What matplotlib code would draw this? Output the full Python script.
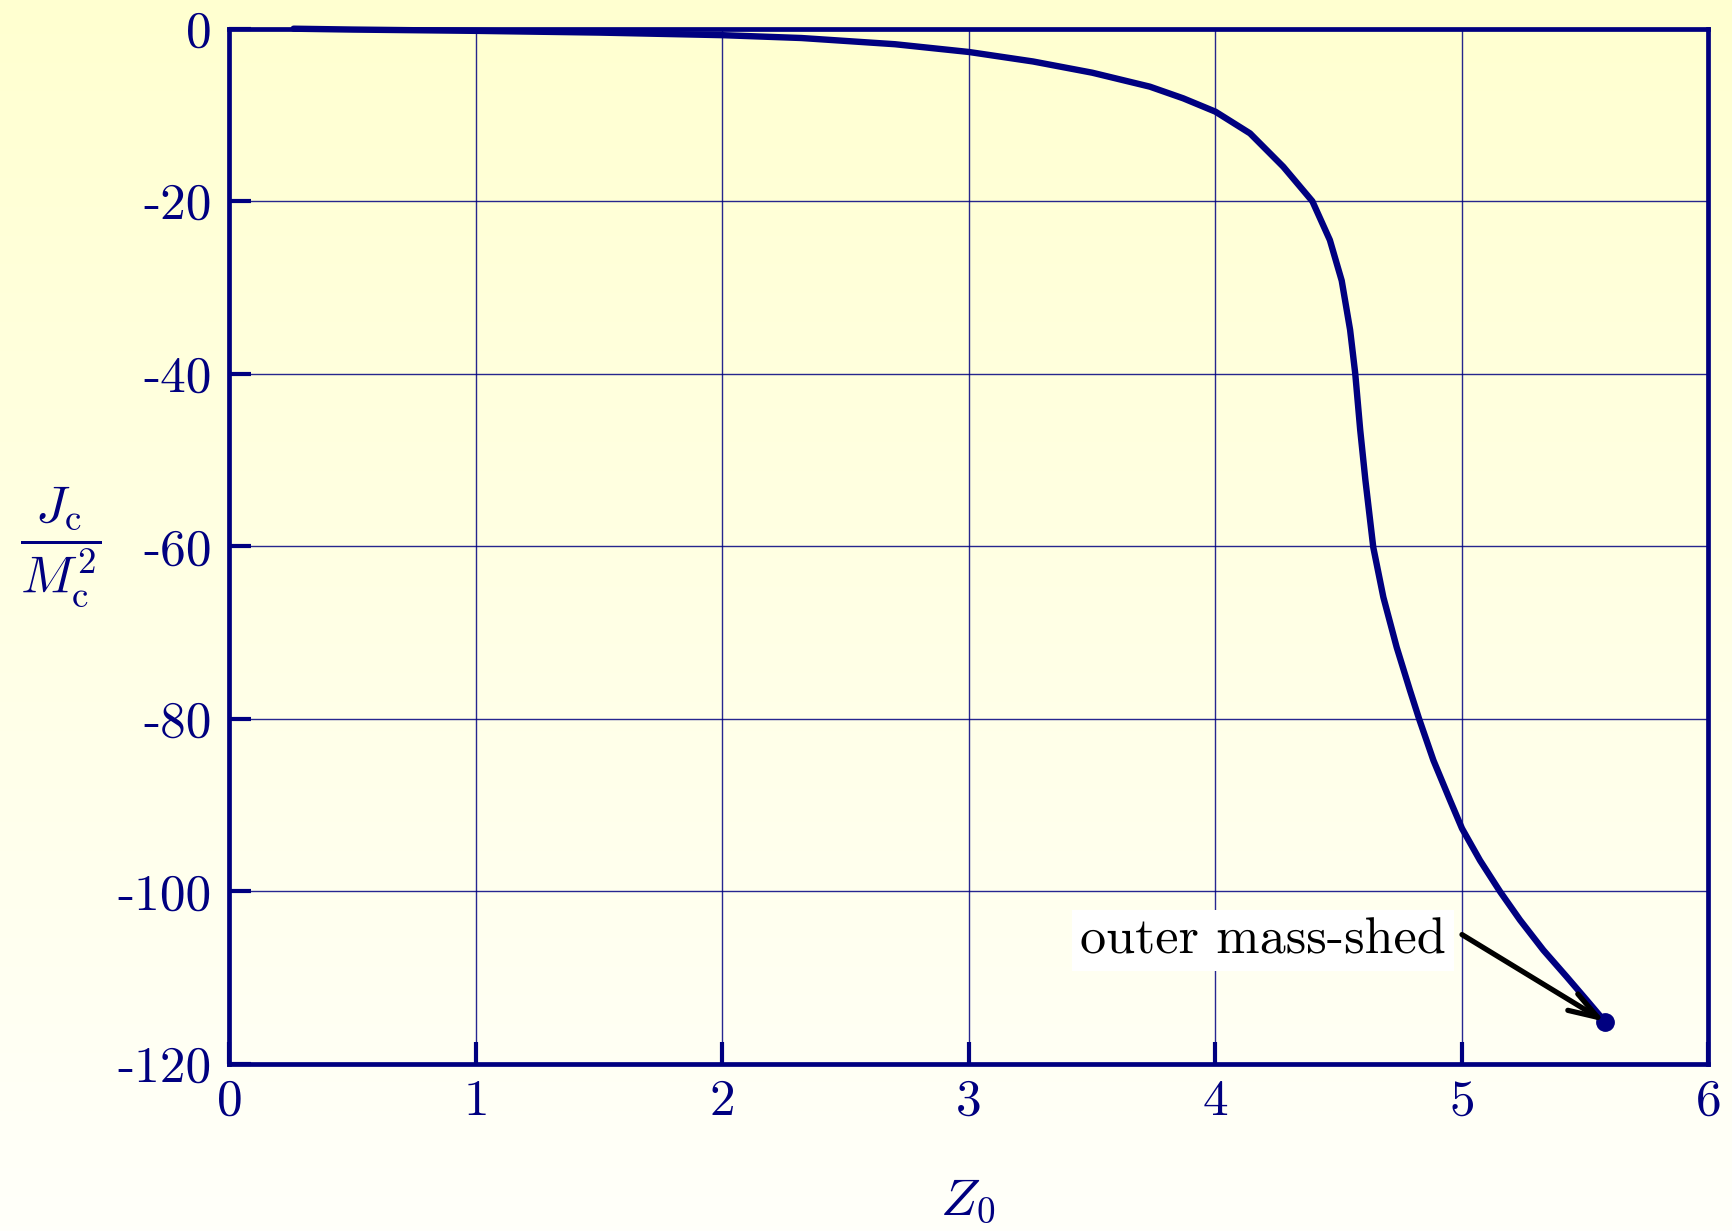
import numpy as np
import matplotlib
matplotlib.use("Agg")
import matplotlib.pyplot as plt

z0 = [0.26, 0.5, 1.0, 1.5, 2.0, 2.32, 2.7, 3.0, 3.26, 3.5, 3.734, 3.869, 4.0,
      4.14, 4.275, 4.393, 4.464, 4.512, 4.546, 4.567, 4.587, 4.608, 4.640,
      4.681, 4.735, 4.789, 4.826, 4.884, 4.951, 5.0, 5.073, 5.154, 5.235,
      5.33, 5.425, 5.506, 5.58]
jc = [0.0, -0.1, -0.25, -0.45, -0.75, -1.08, -1.8, -2.7, -3.8, -5.1, -6.72,
      -8.07, -9.62, -12.13, -16.0, -20.0, -24.5, -29.2, -34.9, -40.0, -46.5,
      -52.3, -60.1, -65.9, -71.7, -76.7, -80.0, -84.8, -89.4, -92.7, -96.4,
      -100.0, -103.3, -106.8, -109.9, -112.6, -115.1]

# end point of the sequence and where the label arrow starts
shed_point = (5.58, -115.1)
arrow_start = (5.0, -105.0)

xticks = [0, 1, 2, 3, 4, 5, 6]
yticks = [0, -20, -40, -60, -80, -100, -120]
ytick_labels = ["0", "-20", "-40", "-60", "-80", "-100", "-120"]

navy = "#000080"
plt.rcParams["font.family"] = "cmr10"
plt.rcParams["mathtext.fontset"] = "cm"
plt.rcParams["axes.unicode_minus"] = False

W, H = 1733, 1231
fig = plt.figure(figsize=(W / 100, H / 100), dpi=100)

# pale yellow vertical gradient behind everything
bg = fig.add_axes([0, 0, 1, 1], zorder=-10)
grad = np.linspace(0, 1, 256).reshape(-1, 1)
top = np.array([255, 255, 208]) / 255
bot = np.array([255, 255, 250]) / 255
img = top[None, None, :] * (1 - grad[:, :, None]) + bot[None, None, :] * grad[:, :, None]
bg.imshow(img, aspect="auto", extent=[0, 1, 0, 1])
bg.axis("off")

left, right = 229.5 / W, 1708.5 / W
bottom, topy = 1 - 1064 / H, 1 - 28.7 / H
ax = fig.add_axes([left, bottom, right - left, topy - bottom])
ax.set_facecolor("none")

ax.plot(z0, jc, color=navy, lw=4.6, solid_capstyle="round",
        solid_joinstyle="round", zorder=4, clip_on=False)
ax.plot(*shed_point, "o", color=navy, ms=12.5, zorder=5, clip_on=False)

ax.set_xlim(0, 6)
ax.set_ylim(-120, 0)
ax.set_xticks(xticks)
ax.set_xticklabels([str(t) for t in xticks])
ax.set_yticks(yticks)
ax.set_yticklabels(ytick_labels)

ax.grid(True, color=navy, lw=1.0, alpha=0.85)
for s in ax.spines.values():
    s.set_color(navy)
    s.set_linewidth(3.4)
ax.tick_params(axis="both", direction="in", length=16, width=3.0, color=navy,
               labelcolor=navy, labelsize=37, top=False, right=False)
ax.tick_params(axis="x", pad=11)
ax.tick_params(axis="y", pad=13)

ax.text(4.935, -107.2, "outer mass-shed", fontsize=37.5, color="black",
        ha="right", va="baseline", zorder=6,
        bbox=dict(boxstyle="square,pad=0.15", fc="white", ec="none"))
ax.annotate("", xy=shed_point, xytext=arrow_start, zorder=6,
            arrowprops=dict(arrowstyle="->,head_length=0.7,head_width=0.23",
                            mutation_scale=30, color="black", lw=3.8,
                            shrinkA=0, shrinkB=0))

fig.text(60.5 / W, 1 - 547 / H, r"$\dfrac{J_\mathrm{c}}{M_\mathrm{c}^2}$",
         fontsize=38, color=navy, ha="center", va="center")
fig.text(968 / W, 1 - 1201 / H, r"$Z_0$", fontsize=38, color=navy,
         ha="center", va="center")

fig.savefig("out.png", dpi=100)
